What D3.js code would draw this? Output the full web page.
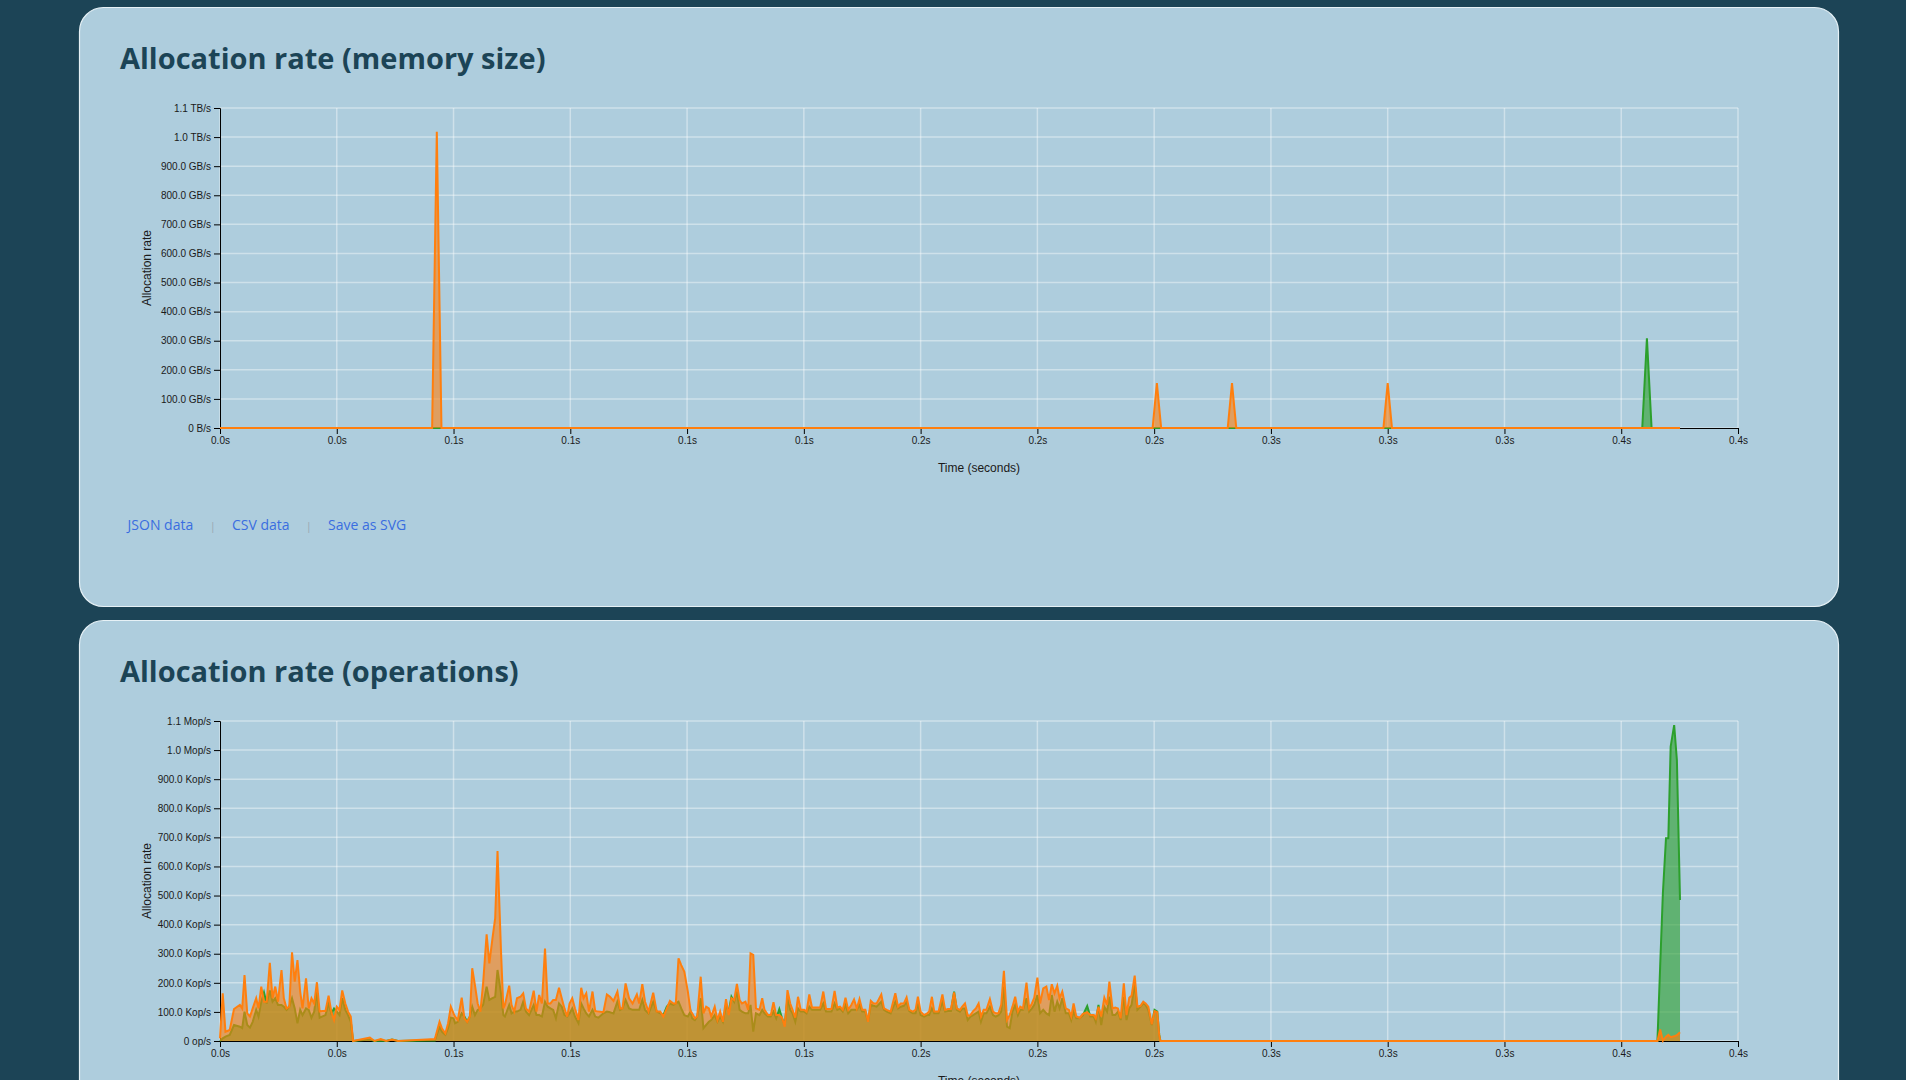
<!DOCTYPE html>
<html><head><meta charset="utf-8">
<script src="https://cdn.jsdelivr.net/npm/d3@7"></script>
<style>
html,body{margin:0;padding:0;background:#1c4456;overflow:hidden;}
svg{display:block;}
</style></head><body>
<svg id="page" width="1906" height="1080"></svg>
<script>
// ---------- axis ticks ----------
const xTickValues = [0, 30, 60, 90, 120, 150, 180, 210, 240, 270, 300, 330, 360, 390]; // ms
const xTickLabels = ["0.0s","0.0s","0.1s","0.1s","0.1s","0.1s","0.2s","0.2s","0.2s","0.3s","0.3s","0.3s","0.4s","0.4s"];
const yTickValues = [0, 100, 200, 300, 400, 500, 600, 700, 800, 900, 1000, 1100];
const memTickLabels = ["0 B/s","100.0 GB/s","200.0 GB/s","300.0 GB/s","400.0 GB/s","500.0 GB/s","600.0 GB/s","700.0 GB/s","800.0 GB/s","900.0 GB/s","1.0 TB/s","1.1 TB/s"];
const opsTickLabels = ["0 op/s","100.0 Kop/s","200.0 Kop/s","300.0 Kop/s","400.0 Kop/s","500.0 Kop/s","600.0 Kop/s","700.0 Kop/s","800.0 Kop/s","900.0 Kop/s","1.0 Mop/s","1.1 Mop/s"];

// ---------- memory size chart (time in ms, rate in GB/s) ----------
const memTimes  = [0, 54.5, 55.7, 56.9, 239.6, 240.7, 241.8, 258.9, 260.0, 261.1, 298.9, 300.0, 301.1, 365.4, 366.6, 367.8, 375.1];
const memOrange = [0, 0, 1018, 0, 0, 154, 0, 0, 154, 0, 0, 154, 0, 0, 0, 0, 0];
const memGreen  = [0, 0, 0, 0, 0, 0, 0, 0, 0, 0, 0, 0, 0, 0, 308, 0, 0];

// ---------- operations chart (time in ms, rate in Kop/s) ----------
const opsTimes = [
 0,0.7,1.4,2.5,3.6,5.1,5.7,6.3,7.0,7.7,8.4,9.3,9.9,10.6,11.3,12.0,12.8,13.5,14.2,14.9,15.8,16.4,17.1,17.8,18.5,19.2,19.9,20.6,21.2,22.1,22.8,23.5,24.2,24.9,25.6,26.2,27.1,27.9,28.6,29.3,30.0,30.7,31.4,32.2,32.9,33.6,34.2,38.5,39.7,41.3,42.7,44.2,45.7,53.0,55.2,56.4,57.0,57.9,58.6,59.3,60.0,
 60.4,61.1,62.1,62.8,63.5,64.2,64.8,65.5,66.2,66.9,67.6,68.5,69.2,70.0,70.7,71.3,72.2,72.8,73.2,74.3,74.9,75.6,76.3,77.2,77.9,78.6,79.4,80.6,81.3,82.0,82.7,83.5,84.2,84.9,85.6,86.3,87.1,87.8,88.5,89.2,89.8,90.5,91.2,92.1,92.8,93.4,94.1,94.8,95.7,96.4,97.2,98.5,99.4,100.2,101.1,102.1,102.8,103.4,104.2,105.1,106.0,107.1,107.7,108.5,109.2,110.1,111.3,112.2,113.1,113.9,114.8,115.6,116.5,117.1,117.8,118.5,119.3,120.2,120.9,
 121.3,122.0,122.6,123.5,124.2,124.9,125.6,126.2,127.1,127.8,128.5,129.2,130.0,130.7,131.4,132.1,132.8,133.5,134.1,135.0,135.7,136.3,137.0,137.7,138.6,139.3,139.9,140.8,141.5,142.2,142.9,143.7,144.4,145.1,145.8,146.5,147.1,147.8,148.5,149.2,150.1,150.7,151.4,152.1,153.0,154.2,155.0,155.7,157.1,157.9,158.6,159.3,160.0,160.7,161.4,162.2,162.9,163.6,164.3,165.0,165.8,166.5,167.2,167.9,168.7,169.9,170.6,171.3,172.3,173.5,174.2,174.9,175.7,176.4,177.1,178.0,178.7,179.3,180.0,180.9,181.7,
 182.2,182.9,183.5,184.6,185.6,186.3,187.0,187.8,188.6,189.3,190.1,190.7,191.4,192.1,192.8,193.5,194.2,194.9,195.5,196.2,196.9,197.8,198.6,199.3,200.0,200.7,201.4,202.2,202.9,203.6,204.3,205.0,205.6,206.3,207.2,207.9,208.6,209.2,210.0,210.7,211.5,212.3,213.0,213.7,214.4,215.1,215.7,216.4,217.3,218.1,218.7,219.3,220.0,220.9,221.7,222.8,223.6,224.5,225.0,225.7,226.4,227.2,227.9,228.5,229.3,230.0,230.7,231.4,232.2,232.9,233.6,234.2,235.0,235.7,236.5,237.2,237.8,238.5,239.4,240.1,240.8,241.3,241.6,
 369.3,370.0,370.7,371.5,372.1,372.7,373.6,374.3,375.1
];
const opsOrange = [
 9,164,32,38,110,124,112,227,95,84,112,147,112,187,135,135,269,147,187,135,244,147,112,118,305,204,278,170,112,215,112,147,129,202,101,103,103,156,101,72,118,107,174,129,101,84,0,12,0,7,0,5,0,5,7,66,44,26,61,118,95,
 84,72,149,78,66,84,250,192,129,101,198,367,267,353,422,653,307,112,124,190,124,101,147,152,164,112,101,173,101,158,129,318,129,129,141,141,183,147,112,84,129,147,112,72,183,147,164,101,170,103,101,99,160,152,138,170,112,112,198,147,129,160,129,195,135,101,166,101,101,84,112,138,129,129,284,261,238,170,103,
 95,78,84,221,95,118,112,84,118,72,101,66,144,89,147,141,196,141,129,135,107,301,296,112,107,147,107,89,89,133,89,89,80,49,175,129,107,80,152,107,107,101,160,115,115,115,170,110,110,172,115,118,107,149,107,124,143,112,144,107,107,66,138,129,129,160,112,107,101,164,118,129,129,150,107,101,107,152,101,89,95,
 101,152,101,101,160,107,110,110,167,112,107,118,129,87,89,103,112,129,84,107,107,144,101,95,95,124,241,72,89,118,152,101,118,112,201,112,129,149,218,129,181,187,141,195,164,190,147,170,112,107,84,129,84,80,93,99,89,89,78,118,84,149,124,204,112,115,112,78,198,89,149,156,225,118,121,135,129,118,57,103,99,21,0,
 0,40,1,15,21,13,16,20,30
];
const opsGreen = [
 0,9,15,21,55,49,44,101,55,46,66,107,84,135,167,129,174,135,147,124,124,118,107,118,147,112,61,107,89,112,107,80,101,170,80,84,89,129,95,112,101,89,147,107,89,66,0,5,0,2,0,5,0,2,2,49,32,21,44,80,78,
 61,66,95,84,66,84,118,89,107,112,124,187,141,147,152,244,164,89,84,124,95,101,101,107,135,101,89,124,89,89,84,135,118,112,107,78,129,118,89,84,95,112,84,61,129,112,95,84,107,84,80,95,101,99,95,135,107,112,141,112,107,107,107,141,107,95,135,101,95,89,118,129,124,129,135,112,89,84,101,
 78,72,84,147,44,55,66,72,89,66,84,66,124,101,152,135,170,107,101,95,95,124,32,95,89,107,95,84,84,101,78,110,78,55,147,107,95,66,112,101,101,95,118,107,107,107,129,101,101,129,107,112,101,124,95,107,107,107,124,101,101,66,124,121,118,135,107,101,95,135,112,118,121,135,103,95,95,129,89,84,89,
 89,112,95,95,135,101,103,103,170,107,101,112,112,72,84,89,95,101,66,95,95,118,89,84,89,101,187,49,44,101,124,89,107,107,147,101,112,124,158,95,107,95,89,158,101,135,112,147,95,95,72,101,78,78,89,120,84,84,66,124,55,118,101,152,89,89,101,72,152,72,112,124,198,107,118,129,124,107,55,107,101,21,0,
 0,255,508,697,697,1012,1086,966,485
];

const titles = ["Allocation rate (memory size)", "Allocation rate (operations)"];
const linkLabels = ["JSON data", "CSV data", "Save as SVG"];

// ---------- drawing ----------
const svg = d3.select("#page");
const ORANGE = "#ff7f0e", GREEN = "#2ca02c";
const AXIS_FONT = "'Liberation Sans', Arial, sans-serif";

const x = d3.scaleLinear().domain([0, 390]).range([220, 1738]);

function drawPanel(offset, title, times, orange, green, tickLabels, withLinks) {
  const g = svg.append("g").attr("transform", `translate(0,${offset})`);
  g.append("rect").attr("x", 79.5).attr("y", 7.5).attr("width", 1759).attr("height", 599)
    .attr("rx", 24).attr("fill", "#aecddd").attr("stroke", "#e6f1f6").attr("stroke-width", 1.2);
  g.append("text").attr("x", 120).attr("y", 68.5).text(title)
    .attr("font-family", "'Open Sans', Lato, sans-serif").attr("font-weight", 700)
    .attr("font-size", 29).attr("fill", "#1c4456");

  const y = d3.scaleLinear().domain([0, 1100]).range([428, 108]);

  // grid
  const grid = g.append("g").attr("stroke", "#ffffff").attr("stroke-opacity", 0.4).attr("stroke-width", 1.5);
  grid.selectAll("line.h").data(yTickValues).join("line")
    .attr("x1", x.range()[0]).attr("x2", x.range()[1])
    .attr("y1", d => y(d)).attr("y2", d => y(d));
  grid.selectAll("line.v").data(xTickValues).join("line")
    .attr("y1", y.range()[0]).attr("y2", y.range()[1])
    .attr("x1", d => x(d)).attr("x2", d => x(d));

  // axes
  const ax = g.append("g").attr("transform", `translate(0,${y(0)})`)
    .call(d3.axisBottom(x).tickValues(xTickValues).tickFormat((d, i) => xTickLabels[i]));
  const ay = g.append("g").attr("transform", `translate(${x(0)},0)`)
    .call(d3.axisLeft(y).tickValues(yTickValues).tickFormat((d, i) => tickLabels[i]));
  [ax, ay].forEach(a => {
    a.attr("font-family", AXIS_FONT).attr("font-size", 10);
    a.selectAll("text").attr("fill", "#1a1a1a");
    a.selectAll("path,line").attr("stroke", "#000");
  });

  g.append("text").attr("transform", `translate(151,${(y(0) + y(1100)) / 2}) rotate(-90)`)
    .attr("text-anchor", "middle").attr("font-family", AXIS_FONT).attr("font-size", 12)
    .attr("fill", "#1a1a1a").text("Allocation rate");
  g.append("text").attr("x", (x.range()[0] + x.range()[1]) / 2).attr("y", 472)
    .attr("text-anchor", "middle").attr("font-family", AXIS_FONT).attr("font-size", 12)
    .attr("fill", "#1a1a1a").text("Time (seconds)");

  // series
  const mk = vals => times.map((t, i) => ({t: t, v: vals[i]}));
  const area = d3.area().x(d => x(d.t)).y0(y(0)).y1(d => y(d.v));
  const line = d3.line().x(d => x(d.t)).y(d => y(d.v));
  [[green, GREEN], [orange, ORANGE]].forEach(([vals, col]) => {
    const data = mk(vals);
    g.append("path").datum(data).attr("d", area).attr("fill", col).attr("fill-opacity", 0.6);
    g.append("path").datum(data).attr("d", line).attr("fill", "none")
      .attr("stroke", col).attr("stroke-width", 2);
  });

  if (withLinks) {
    const lf = "'Open Sans', sans-serif";
    const lx = [127.6, 232, 328];
    linkLabels.forEach((lbl, i) => {
      g.append("text").attr("x", lx[i]).attr("y", 530).text(lbl)
        .attr("font-family", lf).attr("font-size", 14).attr("fill", "#3a6de0");
    });
    [212.7, 308.8].forEach(sx => {
      g.append("text").attr("x", sx).attr("y", 530).attr("text-anchor", "middle").text("|")
        .attr("font-family", lf).attr("font-size", 11).attr("fill", "#98a7b2");
    });
  }
}

drawPanel(0, titles[0], memTimes, memOrange, memGreen, memTickLabels, true);
drawPanel(613, titles[1], opsTimes, opsOrange, opsGreen, opsTickLabels, false);
</script>
</body></html>
